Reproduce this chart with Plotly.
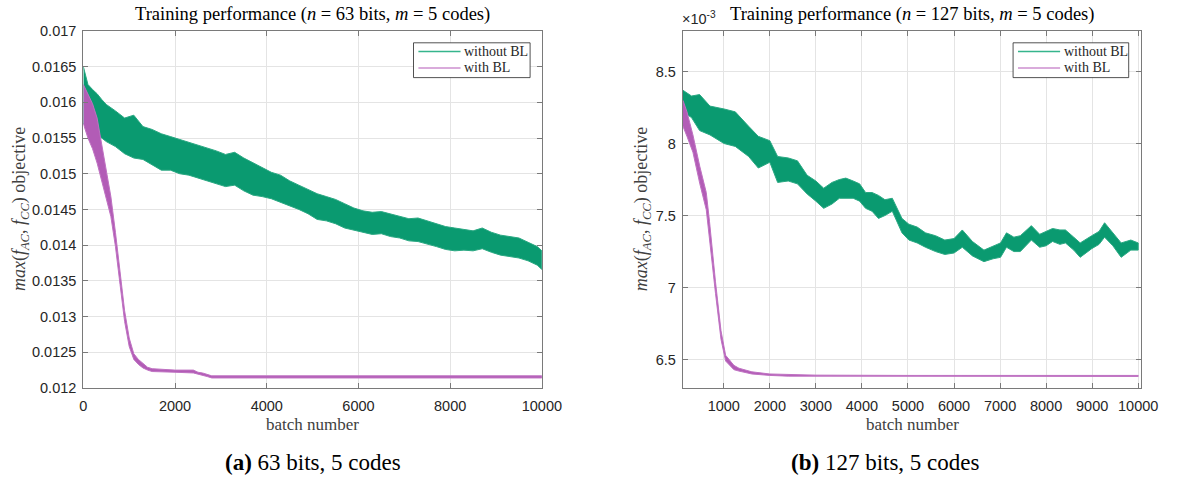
import plotly.graph_objects as go

# ---------------- data ----------------
# Panel (a): n = 63 bits, m = 5 codes -- noisy curves given as upper / lower envelopes
batch_a_noBL = [0, 100, 200, 300, 400, 500, 700, 900, 1100, 1300, 1500, 1700, 1900, 2100, 2300, 2500,
                2700, 2900, 3100, 3300, 3500, 3700, 3900, 4100, 4300, 4500, 4700, 4900, 5100, 5300,
                5500, 5700, 5900, 6100, 6300, 6500, 6700, 6900, 7100, 7300, 7500, 7700, 7900, 8100,
                8300, 8500, 8700, 8900, 9100, 9300, 9500, 9700, 9900, 10000]
upper_a_noBL = [0.01650, 0.01625, 0.01618, 0.01612, 0.01604, 0.01597, 0.01588, 0.01578, 0.01582, 0.01566,
                0.01562, 0.01556, 0.01552, 0.01548, 0.01545, 0.01540, 0.01536, 0.01532, 0.01527, 0.01530,
                0.01522, 0.01515, 0.01508, 0.01502, 0.01498, 0.01490, 0.01484, 0.01478, 0.01472, 0.01468,
                0.01464, 0.01458, 0.01452, 0.01448, 0.01446, 0.01447, 0.01444, 0.01440, 0.01437, 0.01438,
                0.01434, 0.01430, 0.01426, 0.01424, 0.01422, 0.01420, 0.01424, 0.01418, 0.01414, 0.01412,
                0.01410, 0.01404, 0.01398, 0.01392]
lower_a_noBL = [0.01570, 0.01565, 0.01555, 0.01552, 0.01550, 0.01545, 0.01538, 0.01528, 0.01522, 0.01520,
                0.01512, 0.01505, 0.01505, 0.01500, 0.01498, 0.01495, 0.01490, 0.01486, 0.01482, 0.01484,
                0.01476, 0.01470, 0.01468, 0.01465, 0.01460, 0.01455, 0.01450, 0.01444, 0.01436, 0.01434,
                0.01430, 0.01424, 0.01420, 0.01418, 0.01415, 0.01416, 0.01412, 0.01410, 0.01406, 0.01405,
                0.01402, 0.01398, 0.01394, 0.01392, 0.01393, 0.01392, 0.01395, 0.01390, 0.01386, 0.01384,
                0.01382, 0.01378, 0.01372, 0.01366]

batch_a_BL = [0, 100, 200, 300, 400, 500, 600, 700, 800, 900, 1000, 1100, 1200, 1300, 1400, 1500,
              2000, 2400, 2500, 2600, 2700, 2800, 4000, 6000, 8000, 10000]
upper_a_BL = [0.01625, 0.01612, 0.01598, 0.01578, 0.01540, 0.01505, 0.01468, 0.01418, 0.01362, 0.01308,
              0.01270, 0.01248, 0.01240, 0.01234, 0.01229, 0.01227, 0.01225, 0.01225, 0.01222, 0.01221,
              0.01219, 0.01217, 0.01217, 0.01217, 0.01217, 0.01217]
lower_a_BL = [0.01570, 0.01550, 0.01535, 0.01515, 0.01490, 0.01465, 0.01440, 0.01398, 0.01345, 0.01293,
              0.01258, 0.01240, 0.01233, 0.01228, 0.01225, 0.01223, 0.01222, 0.01221, 0.01219, 0.01218,
              0.01216, 0.01214, 0.01214, 0.01214, 0.01214, 0.01214]

# Panel (b): n = 127 bits, m = 5 codes  (values in units of 1e-3)
batch_b_noBL = [113, 300, 475, 700, 1006, 1250, 1540, 1750, 2000, 2170, 2400, 2600, 2810, 3000, 3170,
                3350, 3510, 3650, 3810, 3950, 4080, 4220, 4360, 4500, 4660, 4870, 5020, 5200, 5380,
                5600, 5800, 6000, 6180, 6400, 6650, 6850, 7010, 7140, 7300, 7440, 7680, 7860, 8000,
                8140, 8300, 8420, 8600, 8740, 8990, 9150, 9270, 9450, 9630, 9840, 10000]
upper_b_noBL = [8.37, 8.33, 8.34, 8.26, 8.24, 8.22, 8.12, 8.05, 8.02, 7.91, 7.90, 7.88, 7.78, 7.74, 7.69,
                7.73, 7.75, 7.76, 7.74, 7.72, 7.66, 7.66, 7.64, 7.61, 7.62, 7.48, 7.44, 7.42, 7.38,
                7.36, 7.33, 7.34, 7.40, 7.32, 7.26, 7.29, 7.31, 7.38, 7.35, 7.36, 7.43, 7.37, 7.39,
                7.41, 7.40, 7.40, 7.35, 7.31, 7.36, 7.39, 7.45, 7.38, 7.31, 7.33, 7.31]
lower_b_noBL = [8.22, 8.18, 8.09, 8.06, 8.00, 7.98, 7.91, 7.83, 7.87, 7.73, 7.74, 7.72, 7.65, 7.60, 7.55,
                7.58, 7.62, 7.62, 7.62, 7.60, 7.55, 7.53, 7.48, 7.50, 7.53, 7.38, 7.33, 7.31, 7.28,
                7.25, 7.23, 7.24, 7.28, 7.22, 7.18, 7.20, 7.21, 7.28, 7.25, 7.25, 7.33, 7.28, 7.29,
                7.32, 7.30, 7.31, 7.26, 7.21, 7.27, 7.30, 7.35, 7.29, 7.21, 7.26, 7.26]

batch_b_BL = [113, 200, 330, 480, 620, 690, 820, 940, 1040, 1220, 1330, 1610, 2000, 2400, 3000, 5000, 7000, 10000]
upper_b_BL = [8.30, 8.22, 8.06, 7.84, 7.66, 7.46, 7.04, 6.70, 6.53, 6.46, 6.44, 6.415, 6.40, 6.395, 6.392, 6.39, 6.39, 6.39]
lower_b_BL = [8.12, 8.05, 7.94, 7.72, 7.54, 7.36, 6.96, 6.64, 6.49, 6.43, 6.42, 6.40, 6.39, 6.385, 6.383, 6.383, 6.383, 6.383]

series_names = ["without BL", "with BL"]
titles = ["Training performance (<i>n</i> = 63 bits, <i>m</i> = 5 codes)",
          "Training performance (<i>n</i> = 127 bits, <i>m</i> = 5 codes)"]
captions = ["<b>(a)</b> 63 bits, 5 codes", "<b>(b)</b> 127 bits, 5 codes"]
yticks_a = [0.012, 0.0125, 0.013, 0.0135, 0.014, 0.0145, 0.015, 0.0155, 0.016, 0.0165, 0.017]
yticklabels_a = ["0.012", "0.0125", "0.013", "0.0135", "0.014", "0.0145", "0.015", "0.0155", "0.016", "0.0165", "0.017"]
xticks_a = [0, 2000, 4000, 6000, 8000, 10000]
yticks_b = [6.5, 7, 7.5, 8, 8.5]
xticks_b = [1000, 2000, 3000, 4000, 5000, 6000, 7000, 8000, 9000, 10000]

# ---------------- styling ----------------
W, H = 1182, 482
GREEN, GREEN_EDGE, GREEN_L = "#0a9a70", "#2aa882", "#35b58c"
PURPLE, PURPLE_EDGE, PURPLE_L = "#b25cb6", "#bf72c2", "#cc8fcf"
SERIF = "Liberation Serif"
SANS = "Liberation Sans"
AXC = "#7a7a7a"
TXT = "#262626"

fig = go.Figure()


def band(x, up, lo, color, edge, xa, ya):
    fig.add_trace(go.Scatter(
        x=list(x) + list(x)[::-1], y=list(up) + list(lo)[::-1],
        fill="toself", fillcolor=color, mode="lines",
        line=dict(color=edge, width=1), showlegend=False,
        hoverinfo="skip", xaxis=xa, yaxis=ya))


band(batch_a_noBL, upper_a_noBL, lower_a_noBL, GREEN, GREEN_EDGE, "x", "y")
band(batch_a_BL, upper_a_BL, lower_a_BL, PURPLE, PURPLE_EDGE, "x", "y")
band(batch_b_noBL, upper_b_noBL, lower_b_noBL, GREEN, GREEN_EDGE, "x2", "y2")
band(batch_b_BL, upper_b_BL, lower_b_BL, PURPLE, PURPLE_EDGE, "x2", "y2")

# pixel geometry
L1, R1, L2, R2 = 81, 549, 693, 1161
TOP, BOT = 23.7, 393


def px(v):
    return v / W


def py(v):
    return 1 - v / H


axis_common = dict(showline=True, mirror="ticks", linecolor=AXC, linewidth=1.2,
                   ticks="inside", ticklen=5, tickcolor=AXC, tickwidth=1,
                   showgrid=True, gridcolor="#e4e4e4", gridwidth=1, zeroline=False,
                   tickfont=dict(family=SANS, size=14.5, color=TXT))

fig.update_layout(
    width=W, height=H, margin=dict(l=0, r=0, t=0, b=0),
    paper_bgcolor="white", plot_bgcolor="white", showlegend=False,
    xaxis=dict(domain=[px(L1), px(R1)], range=[0, 10000], tickvals=xticks_a,
               ticktext=[str(v) for v in xticks_a], anchor="y", ticklabelstandoff=5, **axis_common),
    yaxis=dict(domain=[py(BOT), py(TOP)], range=[0.012, 0.017], tickvals=yticks_a,
               ticktext=yticklabels_a, anchor="x", ticklabelstandoff=3, **axis_common),
    xaxis2=dict(domain=[px(L2), px(R2)], range=[113, 10070], tickvals=xticks_b,
                ticktext=[str(v) for v in xticks_b], anchor="y2", ticklabelstandoff=5, **axis_common),
    yaxis2=dict(domain=[py(BOT), py(TOP)], range=[6.303, 8.782], tickvals=yticks_b,
                ticktext=["6.5", "7", "7.5", "8", "8.5"], anchor="x2", ticklabelstandoff=3, **axis_common),
)

ann = []
shapes = []
ylabel = "<i>max</i>(<i>f</i><sub><i>AC</i></sub>, <i>f</i><sub><i>CC</i></sub>) objective"
panels = [((L1, R1), titles[0], captions[0], 17, 315, (418, 537)),
          ((L2, R2), titles[1], captions[1], 652, 900, (1030, 1148))]
for (l, r), title, cap, yl_x, cap_x, (lg_l, lg_r) in panels:
    cx = (l + r) / 2
    ann.append(dict(text=title, x=px(cx), y=py(7), xref="paper", yref="paper",
                    xanchor="center", yanchor="middle", showarrow=False,
                    font=dict(family=SERIF, size=18.5, color="black")))
    ann.append(dict(text="batch number", x=px(cx), y=py(431), xref="paper", yref="paper",
                    xanchor="center", yanchor="middle", showarrow=False,
                    font=dict(family=SERIF, size=17, color="#404040")))
    ann.append(dict(text=ylabel, x=px(yl_x), y=py((TOP + BOT) / 2), xref="paper", yref="paper",
                    xanchor="center", yanchor="middle", showarrow=False, textangle=-90,
                    font=dict(family=SERIF, size=18, color="#404040")))
    ann.append(dict(text=cap, x=px(cap_x), y=py(470), xref="paper", yref="paper",
                    xanchor="center", yanchor="middle", showarrow=False,
                    font=dict(family=SERIF, size=23, color="black")))
    # legend box (drawn manually to match the compact MATLAB legend)
    shapes.append(dict(type="rect", xref="paper", yref="paper",
                       x0=px(lg_l), x1=px(lg_r), y0=py(72), y1=py(36),
                       line=dict(color=TXT, width=0.8), fillcolor="white", layer="above"))
    for name, col, yy in zip(series_names, [GREEN_L, PURPLE_L], [45, 62]):
        shapes.append(dict(type="line", xref="paper", yref="paper",
                           x0=px(lg_l + 5), x1=px(lg_l + 48), y0=py(yy), y1=py(yy),
                           line=dict(color=col, width=1.5), layer="above"))
        ann.append(dict(text=name, x=px(lg_l + 50), y=py(yy), xref="paper", yref="paper",
                        xanchor="left", yanchor="middle", showarrow=False,
                        font=dict(family=SERIF, size=14, color=TXT)))
ann.append(dict(text="×10<sup>-3</sup>", x=px(690), y=py(22), xref="paper", yref="paper",
                xanchor="left", yanchor="bottom", showarrow=False,
                font=dict(family=SANS, size=14.5, color=TXT)))
fig.update_layout(annotations=ann, shapes=shapes)

fig.write_html("out.html")
